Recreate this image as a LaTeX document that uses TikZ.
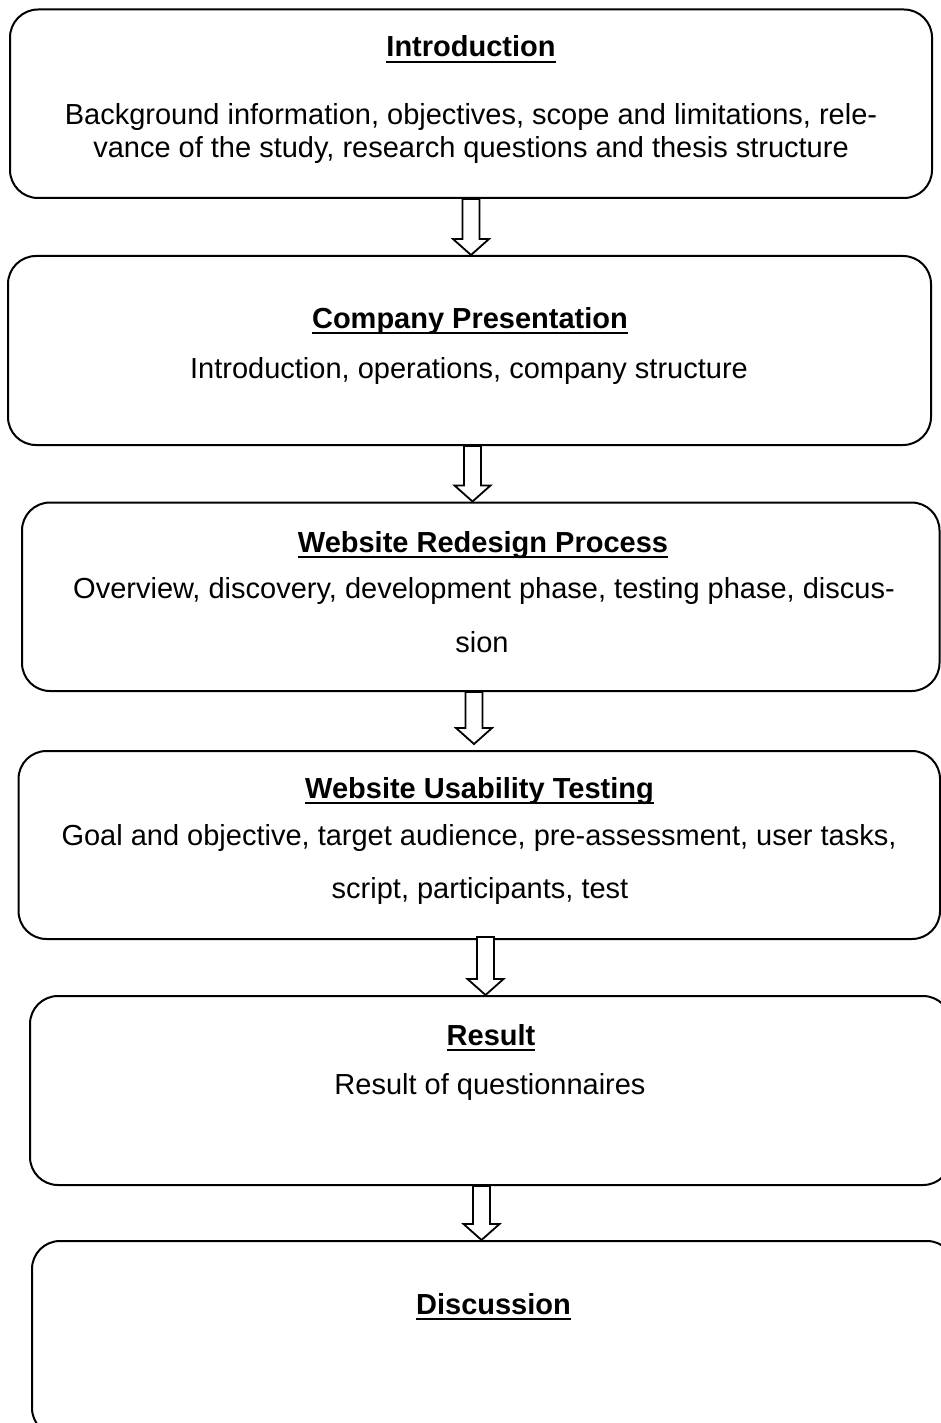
\documentclass[tikz,border=0pt]{standalone}
\usepackage{fontspec}
\setmainfont{Liberation Sans}
\usetikzlibrary{calc}
\newcommand{\myul}[1]{\setbox0\hbox{#1}\rlap{\rule[-6pt]{\wd0}{2pt}}\box0}
\newcommand{\blockarr}[2]{\draw[blockarrow] let \p1=(#1),\p2=(#2) in
  (\x1-8.5pt,\y1) -- (\x1-8.5pt,\y2+16pt) -- (\x1-18pt,\y2+16pt) -- (\x1,\y2) --
  (\x1+18pt,\y2+16pt) -- (\x1+8.5pt,\y2+16pt) -- (\x1+8.5pt,\y1) -- cycle;}
\begin{document}
\begin{tikzpicture}[x=1pt,y=-1pt,
  box/.style={draw,line width=2pt,rounded corners=28pt,inner sep=0pt},
  ttl/.style={anchor=base,inner sep=0pt,font=\fontsize{29pt}{33pt}\selectfont\bfseries},
  txt/.style={anchor=base,inner sep=0pt,font=\fontsize{29pt}{33pt}\selectfont},
  blockarrow/.style={draw,fill=white,line width=1.8pt,line join=miter}]
\useasboundingbox (0,0) rectangle (941,1423);
\clip (0,0) rectangle (941,1423);
\fill[white] (0,0) rectangle (941,1423);

\node[box,minimum width=922pt,minimum height=188.5pt] (b1) at (471,103.75) {};
\node[box,minimum width=923pt,minimum height=189pt] (b2) at (469.5,350.5) {};
\node[box,minimum width=917.5pt,minimum height=188.5pt] (b3) at (480.75,596.75) {};
\node[box,minimum width=921.5pt,minimum height=188pt] (b4) at (479.25,845) {};
\node[box,minimum width=921pt,minimum height=189pt] (b5) at (490.5,1090.5) {};
\node[box,minimum width=923pt,minimum height=195pt] (b6) at (493.5,1338.5) {};

\coordinate (s12) at (b1.south);
\coordinate (t12) at (s12 |- b2.north);
\coordinate (s23) at ([xshift=3pt]b2.south);
\coordinate (t23) at (s23 |- b3.north);
\coordinate (s34) at ([xshift=-6.75pt]b3.south);
\coordinate (t34) at ([yshift=6pt]s34 |- b4.north);
\coordinate (s45) at ([xshift=6.25pt,yshift=3pt]b4.south);
\coordinate (t45) at (s45 |- b5.north);
\coordinate (s56) at ([xshift=-9pt]b5.south);
\coordinate (t56) at (s56 |- b6.north);

\blockarr{s12}{t12}
\blockarr{s23}{t23}
\blockarr{s34}{t34}
\blockarr{s45}{t45}
\blockarr{s56}{t56}

\node[ttl] (h1) at (471,57) {\myul{Introduction}};
\node[txt] (d1a) at (471,125) {Background information, objectives, scope and limitations, rele-};
\node[txt] (d1b) at (471,158) {vance of the study, research questions and thesis structure};
\node[ttl] (h2) at (470,328) {\myul{Company Presentation}};
\node[txt] (d2) at (469,378) {Introduction, operations, company structure};
\node[ttl] (h3) at (483,552) {\myul{Website Redesign Process}};
\node[txt] (d3a) at (484,598) {Overview, discovery, development phase, testing phase, discus-};
\node[txt] (d3b) at (482,652) {sion};
\node[ttl] (h4) at (479.5,798) {\myul{Website Usability Testing}};
\node[txt] (d4a) at (479,845) {Goal and objective, target audience, pre-assessment, user tasks,};
\node[txt] (d4b) at (480,898) {script, participants, test};
\node[ttl] (h5) at (491,1045) {\myul{Result}};
\node[txt] (d5) at (490,1094) {Result of questionnaires};
\node[ttl] (h6) at (493.5,1314) {\myul{Discussion}};
\end{tikzpicture}
\end{document}
